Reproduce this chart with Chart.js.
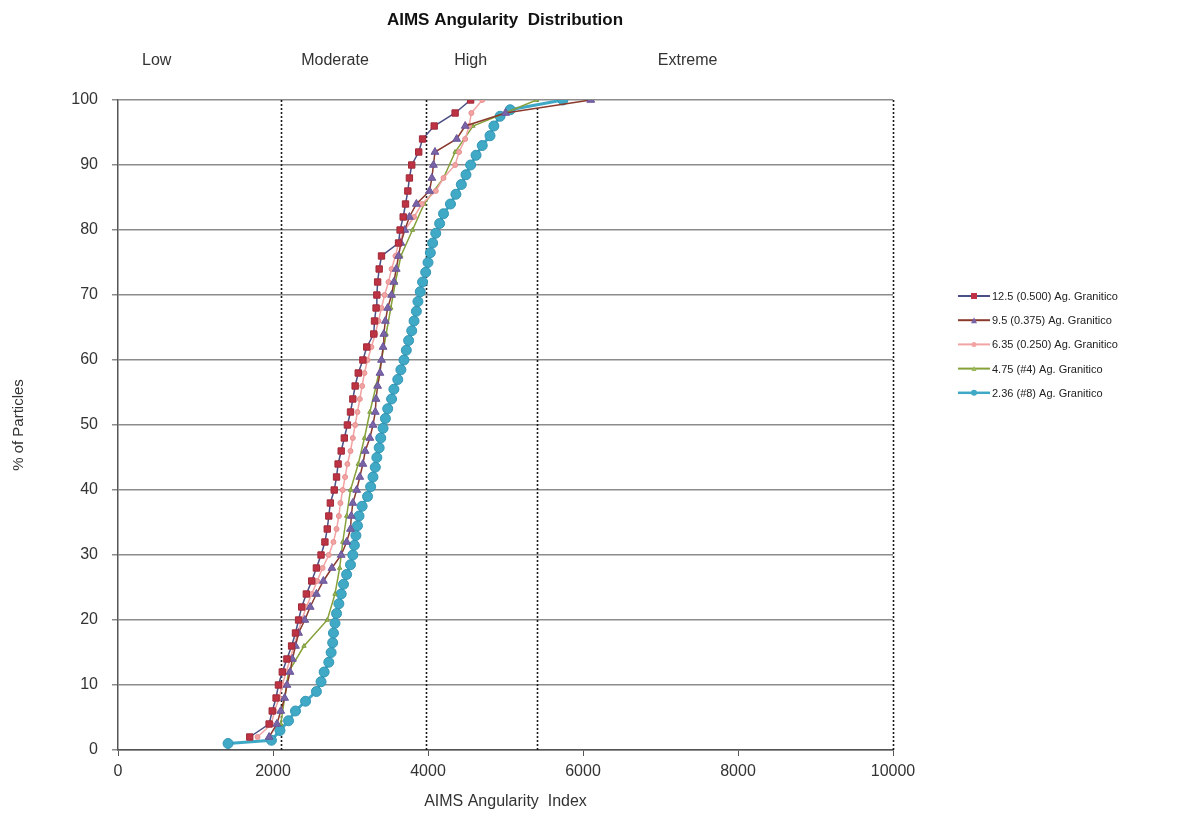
<!DOCTYPE html>
<html>
<head>
<meta charset="utf-8">
<script src="https://cdn.jsdelivr.net/npm/chart.js@4/dist/chart.umd.min.js"></script>
<style>
  html, body { margin: 0; padding: 0; background: #fff; }
  #wrap { width: 1181px; height: 816px; position: relative; }
</style>
</head>
<body>
<div id="wrap"><canvas id="aimsChart"></canvas></div>
<script>
// Series labels
const seriesLabels = [
    '12.5 (0.500) Ag. Granitico',
    '9.5 (0.375) Ag. Granitico',
    '6.35 (0.250) Ag. Granitico',
    '4.75 (#4) Ag. Granitico',
    '2.36 (#8) Ag. Granitico'
];

// Zone labels and thresholds on the angularity index
const zoneLabels = ['Low', 'Moderate', 'High', 'Extreme'];
const zoneLabelX = [500, 2800, 4550, 7350];
const thresholds = [2100, 3975, 5400, 10000];

// Tick labels
const xTicks = [0, 2000, 4000, 6000, 8000, 10000];
const yTicks = [0, 10, 20, 30, 40, 50, 60, 70, 80, 90, 100];

// 12.5 (0.500)
const s125Y = [2, 4, 6, 8, 10, 12, 14, 16, 18, 20, 22, 24, 26, 28, 30, 32, 34, 36, 38, 40,
    42, 44, 46, 48, 50, 52, 54, 56, 58, 60, 62, 64, 66, 68, 70, 72, 74, 76, 78, 80,
    82, 84, 86, 88, 90, 92, 94, 96, 98, 100];
const s125X = [1700, 1950, 1990, 2040, 2070, 2120, 2180, 2240, 2290, 2330, 2370, 2430, 2500, 2560, 2620, 2670, 2700, 2720, 2740, 2790,
    2820, 2840, 2880, 2920, 2960, 3000, 3030, 3060, 3100, 3160, 3210, 3300, 3310, 3330, 3340, 3350, 3370, 3400, 3620, 3640,
    3680, 3710, 3740, 3760, 3790, 3880, 3930, 4080, 4350, 4550];

// 9.5 (0.375)
const s95Y = [2, 4, 6, 8, 10, 12, 14, 16, 18, 20, 22, 24, 26, 28, 30, 32, 34, 36, 38, 40,
    42, 44, 46, 48, 50, 52, 54, 56, 58, 60, 62, 64, 66, 68, 70, 72, 74, 76, 78, 80,
    82, 84, 86, 88, 90, 92, 94, 96, 98, 100];
const s95X = [1950, 2050, 2100, 2150, 2180, 2220, 2250, 2290, 2330, 2410, 2480, 2560, 2650, 2760, 2880, 2950, 3000, 3010, 3030, 3080,
    3120, 3160, 3190, 3250, 3290, 3320, 3330, 3350, 3380, 3400, 3420, 3430, 3450, 3480, 3530, 3560, 3590, 3620, 3650, 3700,
    3760, 3850, 4020, 4050, 4070, 4090, 4370, 4480, 5000, 6100];

// 6.35 (0.250)
const s635Y = [2, 4, 6, 8, 10, 12, 14, 16, 18, 20, 22, 24, 26, 28, 30, 32, 34, 36, 38, 40,
    42, 44, 46, 48, 50, 52, 54, 56, 58, 60, 62, 64, 66, 68, 70, 72, 74, 76, 78, 80,
    82, 84, 86, 88, 90, 92, 94, 96, 98, 100];
const s635X = [1800, 1980, 2020, 2080, 2120, 2170, 2220, 2270, 2320, 2370, 2430, 2500, 2570, 2640, 2720, 2780, 2820, 2850, 2870, 2900,
    2930, 2960, 3000, 3030, 3060, 3090, 3120, 3150, 3180, 3220, 3270, 3320, 3360, 3400, 3440, 3490, 3530, 3580, 3620, 3700,
    3820, 3920, 4100, 4200, 4350, 4400, 4480, 4530, 4560, 4700];

// 4.75 (#4)
const s475Y = [4, 8, 12, 16, 20, 24, 28, 32, 36, 40, 44, 48, 52, 56, 60, 64, 68, 72, 76, 80,
    84, 88, 92, 96, 100];
const s475X = [2100, 2150, 2200, 2400, 2700, 2800, 2860, 2900, 2950, 3000, 3100, 3180, 3250, 3330, 3400, 3460, 3520, 3580, 3650, 3800,
    3950, 4200, 4350, 4580, 5400];

// 2.36 (#8)
const s236Y = [1, 1.5, 3, 4.5, 6, 7.5, 9, 10.5, 12, 13.5, 15, 16.5, 18, 19.5, 21, 22.5, 24, 25.5, 27, 28.5,
    30, 31.5, 33, 34.5, 36, 37.5, 39, 40.5, 42, 43.5, 45, 46.5, 48, 49.5, 51, 52.5, 54, 55.5, 57, 58.5,
    60, 61.5, 63, 64.5, 66, 67.5, 69, 70.5, 72, 73.5, 75, 76.5, 78, 79.5, 81, 82.5, 84, 85.5, 87, 88.5,
    90, 91.5, 93, 94.5, 96, 97.5, 98.5, 100];
const s236X = [1420, 1980, 2090, 2200, 2290, 2420, 2560, 2620, 2660, 2720, 2750, 2770, 2780, 2800, 2820, 2850, 2880, 2910, 2950, 3000,
    3030, 3050, 3070, 3090, 3110, 3150, 3220, 3260, 3290, 3320, 3340, 3370, 3390, 3420, 3450, 3480, 3530, 3560, 3610, 3650,
    3690, 3720, 3750, 3790, 3820, 3850, 3870, 3900, 3930, 3970, 4000, 4030, 4060, 4100, 4150, 4200, 4290, 4360, 4430, 4490,
    4550, 4620, 4700, 4800, 4850, 4930, 5060, 5740];

const FONT = '"Liberation Sans", Arial, sans-serif';

function pts(xs, ys) {
    return xs.map((x, i) => ({ x: x, y: ys[i] }));
}

// Series styles
const styles = [
    { line: '#4a4f86', fill: '#be3343', edge: '#a02a38', shape: 'rect', r: 4.5, w: 1.5 },
    { line: '#8a3a2c', fill: '#7a64a8', edge: '#6a5498', shape: 'triangle', r: 4.5, w: 1.5 },
    { line: '#f2a3a3', fill: '#f2a3a3', edge: '#e79090', shape: 'circle', r: 2.5, w: 1.5 },
    { line: '#86a03a', fill: '#9bbb59', edge: '#7c9a3c', shape: 'triangle', r: 2.5, w: 1.5 },
    { line: '#3fa8c6', fill: '#40a9c6', edge: '#3396b4', shape: 'circle', r: 5, w: 3 }
];

const seriesData = [
    pts(s125X, s125Y), pts(s95X, s95Y), pts(s635X, s635Y), pts(s475X, s475Y), pts(s236X, s236Y)
];

// Dotted zone boundaries, zone names, title and legend
const extrasPlugin = {
    id: 'extras',
    beforeDatasetsDraw(chart) {
        const { ctx, chartArea, scales } = chart;
        ctx.save();
        ctx.strokeStyle = '#1a1a1a';
        ctx.lineWidth = 1.6;
        ctx.setLineDash([2, 2]);
        thresholds.forEach(t => {
            const px = Math.round(scales.x.getPixelForValue(t)) + 0.5;
            ctx.beginPath();
            ctx.moveTo(px, chartArea.top);
            ctx.lineTo(px, chartArea.bottom);
            ctx.stroke();
        });
        ctx.restore();
    },
    afterDraw(chart) {
        const { ctx, scales } = chart;
        ctx.save();
        ctx.fillStyle = '#111';
        ctx.font = 'bold 17px ' + FONT;
        ctx.textAlign = 'center';
        ctx.textBaseline = 'middle';
        ctx.fillText('AIMS Angularity  Distribution', 505, 20);

        ctx.font = '16px ' + FONT;
        ctx.fillStyle = '#333';
        zoneLabels.forEach((z, i) => {
            ctx.fillText(z, scales.x.getPixelForValue(zoneLabelX[i]), 61);
        });

        // legend
        ctx.font = '11px ' + FONT;
        ctx.textAlign = 'left';
        seriesLabels.forEach((lab, i) => {
            const s = styles[i];
            const y = 296 + i * 24.2;
            ctx.strokeStyle = s.line;
            ctx.lineWidth = i === 4 ? 2.5 : 2;
            ctx.setLineDash([]);
            ctx.beginPath();
            ctx.moveTo(958, y);
            ctx.lineTo(990, y);
            ctx.stroke();
            ctx.fillStyle = s.fill;
            const r = Math.min(s.r, 3);
            if (s.shape === 'rect') {
                ctx.fillRect(974 - r, y - r, 2 * r, 2 * r);
            } else if (s.shape === 'triangle') {
                ctx.beginPath();
                ctx.moveTo(974, y - r);
                ctx.lineTo(974 + r, y + r);
                ctx.lineTo(974 - r, y + r);
                ctx.closePath();
                ctx.fill();
            } else {
                ctx.beginPath();
                ctx.arc(974, y, r, 0, Math.PI * 2);
                ctx.fill();
            }
            ctx.fillStyle = '#222';
            ctx.fillText(lab, 992, y + 1);
        });
        ctx.restore();
    }
};

const ctx = document.getElementById('aimsChart').getContext('2d');
new Chart(ctx, {
    type: 'scatter',
    data: {
        datasets: seriesData.map((d, i) => ({
            label: seriesLabels[i],
            data: d,
            showLine: true,
            tension: 0,
            borderColor: styles[i].line,
            borderWidth: styles[i].w,
            pointStyle: styles[i].shape,
            pointRadius: styles[i].r,
            pointBackgroundColor: styles[i].fill,
            pointBorderColor: styles[i].edge,
            pointBorderWidth: 1,
            order: i + 1
        }))
    },
    options: {
        responsive: true,
        maintainAspectRatio: false,
        animation: false,
        layout: { padding: { left: 10, top: 100, right: 288, bottom: 0 } },
        plugins: {
            legend: { display: false },
            tooltip: { enabled: false }
        },
        scales: {
            x: {
                type: 'linear',
                min: 0,
                max: 10000,
                afterBuildTicks: s => { s.ticks = xTicks.map(v => ({ value: v })); },
                afterFit: s => { s.height = 66; },
                grid: { drawOnChartArea: false, tickLength: 6, color: '#555' },
                border: { color: '#555', width: 1.5 },
                ticks: {
                    color: '#333',
                    font: { family: FONT, size: 16 },
                    padding: 6,
                    maxRotation: 0,
                    callback: v => String(v)
                },
                title: {
                    display: true,
                    text: 'AIMS Angularity  Index',
                    color: '#333',
                    font: { family: FONT, size: 16 },
                    padding: { top: 0, bottom: 5 }
                }
            },
            y: {
                min: 0,
                max: 100,
                afterBuildTicks: s => { s.ticks = yTicks.map(v => ({ value: v })); },
                afterFit: s => { s.width = 108; },
                grid: { color: '#8c8c8c', lineWidth: 1.5, tickLength: 6 },
                border: { color: '#555', width: 1.5 },
                ticks: {
                    color: '#333',
                    font: { family: FONT, size: 16 },
                    padding: 14,
                    callback: v => String(v)
                },
                title: {
                    display: true,
                    text: '% of Particles',
                    color: '#333',
                    font: { family: FONT, size: 15 },
                    padding: { top: 0, bottom: 0 }
                }
            }
        }
    },
    plugins: [extrasPlugin]
});
</script>
</body>
</html>
